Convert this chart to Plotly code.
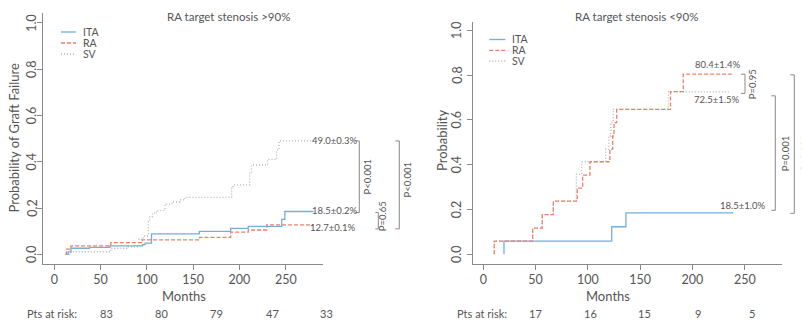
import plotly.graph_objects as go

W, H = 802, 324

# ---- Kaplan-Meier style cumulative failure curves (months, probability) ----
# Panel A: RA target stenosis >90%
a_ita_t = [13.4, 15, 18, 38, 60, 95.4, 98, 105, 156.6, 190.5, 209.5, 245.6, 249, 280]
a_ita_p = [0, 0.010, 0.026, 0.030, 0.036, 0.042, 0.048, 0.088, 0.099, 0.112, 0.121, 0.151, 0.185, 0.185]
a_ra_t = [12, 13, 18, 61, 95, 157, 190.5, 209.5, 229.5, 280]
a_ra_p = [0, 0.022, 0.036, 0.050, 0.062, 0.073, 0.096, 0.105, 0.127, 0.127]
a_sv_t = [13, 18, 61, 80, 91.5, 96, 101.5, 103, 106, 110.5, 119.5, 127, 135.7, 141,
          191.5, 193, 211, 213, 230.4, 240, 242.7, 280]
a_sv_p = [0, 0.011, 0.026, 0.032, 0.065, 0.079, 0.140, 0.163, 0.178, 0.190, 0.217, 0.226, 0.235, 0.246,
          0.285, 0.300, 0.350, 0.386, 0.410, 0.451, 0.490, 0.490]

# Panel B: RA target stenosis <90%
b_ita_t = [19.8, 19.8, 122.8, 136.4, 239]
b_ita_p = [0, 0.059, 0.123, 0.185, 0.185]
b_ra_t = [10.5, 10.5, 47.2, 56.4, 67, 89.9, 95, 102, 121, 123.7, 125, 127.5, 179, 191.2, 237.5]
b_ra_p = [0, 0.059, 0.117, 0.177, 0.237, 0.295, 0.353, 0.413, 0.469, 0.528, 0.588, 0.647, 0.726, 0.804, 0.804]
b_sv_t = [10.5, 10.5, 47.2, 56.4, 67, 89, 94, 117, 120, 122, 124.3, 177, 236]
b_sv_p = [0, 0.059, 0.117, 0.177, 0.237, 0.358, 0.413, 0.469, 0.528, 0.588, 0.647, 0.725, 0.725]

# Standard errors (%) reported at the end of follow-up
a_se = {"ITA": 0.2, "RA": 0.1, "SV": 0.3}
b_se = {"ITA": 1.0, "RA": 1.4, "SV": 1.5}

# Numbers at risk
a_risk = [83, 80, 79, 47, 33]
b_risk = [17, 16, 15, 9, 5]

x_ticks = [0, 50, 100, 150, 200, 250]
y_ticks = [0.0, 0.2, 0.4, 0.6, 0.8, 1.0]

series = ["ITA", "RA", "SV"]
colors = {"ITA": "#74aedb", "RA": "#ef7f6b", "SV": "#b5b5b5"}
dashes = {"ITA": "solid", "RA": "4px,2px", "SV": "1px,2px"}
TXT = "#555555"
AX = "#8a8a8a"
FONT = "Lato"

# ---- panel geometry (pixels) ----
panels = {
    "A": dict(x0=43, x1=323, y_top=13, y_bot=264, xr=[-12.2, 290.2], yr=[-0.042, 1.043], ylab_x=31.7),
    "B": dict(x0=472.7, x1=781.7, y_top=21.7, y_bot=264, xr=[-10.1, 285.3], yr=[-0.0433, 1.038], ylab_x=456.7),
}


def px(x, y):
    return x / W, (H - y) / H


def yp(panel, p):
    g = panels[panel]
    frac = (p - g["yr"][0]) / (g["yr"][1] - g["yr"][0])
    return g["y_bot"] - frac * (g["y_bot"] - g["y_top"])


fig = go.Figure()

curves = {
    "A": {"ITA": (a_ita_t, a_ita_p), "RA": (a_ra_t, a_ra_p), "SV": (a_sv_t, a_sv_p)},
    "B": {"ITA": (b_ita_t, b_ita_p), "RA": (b_ra_t, b_ra_p), "SV": (b_sv_t, b_sv_p)},
}
axis_ids = {"A": ("x", "y"), "B": ("x2", "y2")}

for panel in ["A", "B"]:
    xa, ya = axis_ids[panel]
    for s in ["SV", "ITA", "RA"]:
        t, p = curves[panel][s]
        fig.add_trace(go.Scatter(
            x=t, y=p, mode="lines", line_shape="hv", xaxis=xa, yaxis=ya,
            line=dict(color=colors[s], width=1.3, dash=dashes[s]),
            showlegend=False, hoverinfo="skip"))

axis_common = dict(showgrid=False, zeroline=False, showline=True, linecolor=AX, linewidth=1,
                   ticks="outside", tickcolor=AX, ticklen=5, tickwidth=1,
                   tickfont=dict(family=FONT, size=12.5, color=TXT))

for panel, (xk, yk) in [("A", ("xaxis", "yaxis")), ("B", ("xaxis2", "yaxis2"))]:
    g = panels[panel]
    xa, ya = axis_ids[panel]
    fig.update_layout(**{
        xk: dict(axis_common, domain=[g["x0"] / W, g["x1"] / W], range=g["xr"],
                 tickvals=x_ticks, anchor=ya, ticklabelstandoff=-1),
        yk: dict(axis_common, domain=[(H - g["y_bot"]) / H, (H - g["y_top"]) / H], range=g["yr"],
                 tickvals=y_ticks, showticklabels=False, anchor=xa),
    })

ann = []
shapes = []


def text(x, y, s, size=10, angle=0, xanchor="center", color=TXT):
    xx, yy = px(x, y)
    ann.append(dict(x=xx, y=yy, xref="paper", yref="paper", text=s, showarrow=False,
                    textangle=angle, xanchor=xanchor, yanchor="middle",
                    font=dict(family=FONT, size=size, color=color)))


def seg(x0, y0, x1, y1, color=AX, width=1, dash="solid"):
    a, b = px(x0, y0)
    c, d = px(x1, y1)
    shapes.append(dict(type="line", xref="paper", yref="paper", x0=a, y0=b, x1=c, y1=d,
                       line=dict(color=color, width=width, dash=dash)))


def bracket(x, y0, y1, tick=4):
    seg(x, y0, x, y1)
    seg(x - tick, y0, x, y0)
    seg(x - tick, y1, x, y1)


# Rotated y tick labels
for panel in ["A", "B"]:
    for v in y_ticks:
        text(panels[panel]["ylab_x"], yp(panel, v), f"{v:.1f}", size=12.5, angle=-90)

# Titles
text(228, 16, "RA target stenosis >90%", size=11.5)
text(636, 16, "RA target stenosis <90%", size=11.5)

# Axis titles
text(13.5, 138, "Probability of Graft Failure", size=13, angle=-90)
text(442, 140, "Probability", size=13, angle=-90)
text(183.7, 295.5, "Months", size=13)
text(607.8, 295.5, "Months", size=13)

# Legends
leg = {"A": (61, 76, 81, [32, 43, 54]), "B": (489.3, 505.3, 510, [39.5, 50.3, 61])}
for panel, (lx0, lx1, tx, ys) in leg.items():
    for s, y in zip(series, ys):
        seg(lx0, y, lx1, y, color=colors[s], width=1.3, dash=dashes[s])
        text(tx, y, s, size=10.5, xanchor="left")

# End-of-follow-up labels (panel A)
fa = {s: curves["A"][s][1][-1] for s in series}
text(334.5, yp("A", fa["SV"]), f"{fa['SV'] * 100:.1f}±{a_se['SV']:.1f}%", size=9.5)
text(334.5, yp("A", fa["ITA"]) - 1, f"{fa['ITA'] * 100:.1f}±{a_se['ITA']:.1f}%", size=9.5)
text(332.5, yp("A", fa["RA"]) + 3, f"{fa['RA'] * 100:.1f}±{a_se['RA']:.1f}%", size=9.5)
bracket(359.3, yp("A", fa["SV"]), yp("A", fa["ITA"]) + 1)
text(367.3, (yp("A", fa["SV"]) + yp("A", fa["ITA"])) / 2, "P<0.001", size=9.5, angle=-90)
bracket(378.3, yp("A", fa["ITA"]) + 1, yp("A", fa["RA"]) + 4, tick=3)
text(382.7, 216.5, "P=0.65", size=9.5, angle=-90)
bracket(399.3, yp("A", fa["SV"]), yp("A", fa["RA"]) + 4)
text(406.5, 180, "P<0.001", size=9.5, angle=-90)

# End-of-follow-up labels (panel B)
fb = {s: curves["B"][s][1][-1] for s in series}
text(717.5, yp("B", fb["RA"]) - 10, f"{fb['RA'] * 100:.1f}±{b_se['RA']:.1f}%", size=9.5)
text(716.7, yp("B", fb["SV"]) + 8, f"{fb['SV'] * 100:.1f}±{b_se['SV']:.1f}%", size=9.5)
text(743, yp("B", fb["ITA"]) - 7, f"{fb['ITA'] * 100:.1f}±{b_se['ITA']:.1f}%", size=9.5)
bracket(745, yp("B", fb["RA"]), yp("B", fb["SV"]) + 1.5)
text(752, 84.3, "P=0.95", size=9.5, angle=-90)
bracket(775.3, yp("B", fb["SV"]) + 4, yp("B", fb["ITA"]) - 2.5)
text(785, 153.3, "P=0.001", size=9.5, angle=-90)
bracket(794.3, yp("B", fb["RA"]) + 0.7, yp("B", fb["ITA"]) + 0.5)
text(804.5, 153, "P<0.001", size=9.5, angle=-90)

# Numbers at risk
text(52, 313.3, "Pts at risk:", size=11)
for x, n in zip([106.7, 161.7, 216, 272, 326.7], a_risk):
    text(x, 313.3, str(n), size=11)
text(481.5, 313.3, "Pts at risk:", size=11)
for x, n in zip([535, 590, 644, 698.3, 752.3], b_risk):
    text(x, 313.3, str(n), size=11)

fig.update_layout(
    width=W, height=H, margin=dict(l=0, r=0, t=0, b=0),
    paper_bgcolor="white", plot_bgcolor="white",
    annotations=ann, shapes=shapes, showlegend=False,
)

fig.write_html("out.html")
